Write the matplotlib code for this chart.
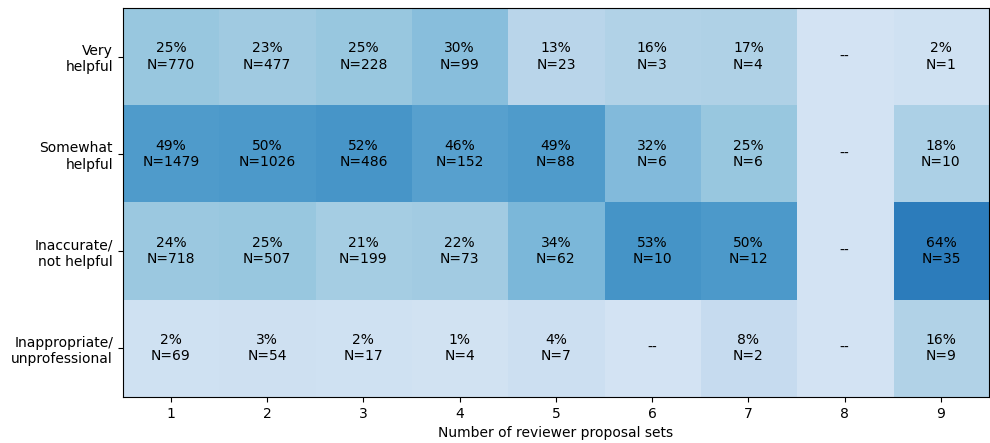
import numpy as np
import matplotlib
matplotlib.use("Agg")
from matplotlib import pyplot as plt

# rows = feedback rating, columns = number of reviewer proposal sets
ratings = ["Very\nhelpful", "Somewhat\nhelpful", "Inaccurate/\nnot helpful", "Inappropriate/\nunprofessional"]
n_sets = [1, 2, 3, 4, 5, 6, 7, 8, 9]

# percent per cell (None = no data)
pct_very = [25, 23, 25, 30, 13, 16, 17, None, 2]
pct_somewhat = [49, 50, 52, 46, 49, 32, 25, None, 18]
pct_inaccurate = [24, 25, 21, 22, 34, 53, 50, None, 64]
pct_inappropriate = [2, 3, 2, 1, 4, None, 8, None, 16]

# counts per cell
n_very = [770, 477, 228, 99, 23, 3, 4, None, 1]
n_somewhat = [1479, 1026, 486, 152, 88, 6, 6, None, 10]
n_inaccurate = [718, 507, 199, 73, 62, 10, 12, None, 35]
n_inappropriate = [69, 54, 17, 4, 7, None, 2, None, 9]

pct = [pct_very, pct_somewhat, pct_inaccurate, pct_inappropriate]
counts = [n_very, n_somewhat, n_inaccurate, n_inappropriate]

vals = np.array([[0 if v is None else v / 100 for v in row] for row in pct])

fig = plt.figure(figsize=(9.9, 4.43), dpi=100)
ax = fig.add_axes([0.124, 0.104, 0.875, 0.878])

ax.imshow(vals, cmap="Blues", vmin=-0.224, vmax=1.0, aspect="auto")

for i in range(len(ratings)):
    for j in range(len(n_sets)):
        if pct[i][j] is None:
            ax.text(j, i, "--", ha="center", va="center", fontsize=10)
        else:
            ax.text(j, i, f"{pct[i][j]}%\nN={counts[i][j]}", ha="center", va="center", fontsize=10)

ax.set_xticks(range(len(n_sets)))
ax.set_xticklabels([str(k) for k in n_sets], fontsize=10)
ax.set_yticks(range(len(ratings)))
ax.set_yticklabels(ratings, fontsize=10)
ax.set_xlabel("Number of reviewer proposal sets", fontsize=10)

fig.savefig("out.png", dpi=100)
